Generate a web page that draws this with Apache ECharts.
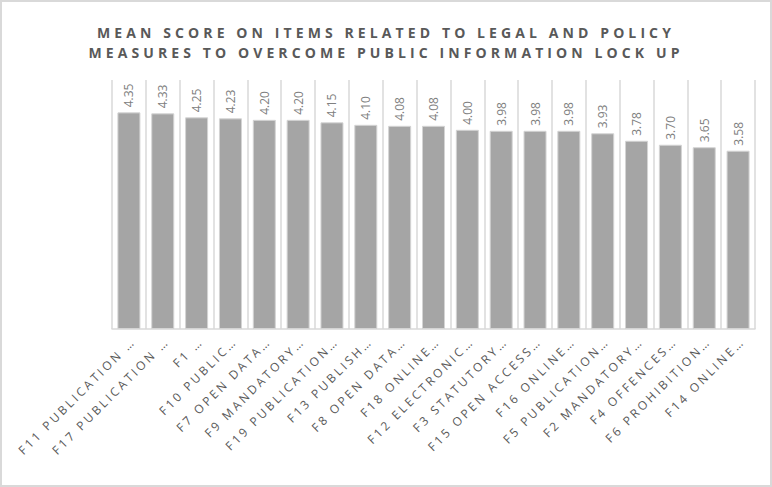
<!DOCTYPE html>
<html>
<head>
<meta charset="utf-8">
<script src="https://cdn.jsdelivr.net/npm/echarts@6/dist/echarts.min.js"></script>
<style>
  html, body { margin: 0; padding: 0; background: #fff; }
  #chart { width: 772px; height: 487px; }
</style>
</head>
<body>
<div id="chart"></div>
<script>
const titleLines = [
  'MEAN SCORE ON ITEMS RELATED TO LEGAL AND POLICY',
  'MEASURES TO OVERCOME PUBLIC INFORMATION LOCK UP'
];
const categories = [
  'F11 PUBLICATION …', 'F17 PUBLICATION …', 'F1 …', 'F10 PUBLIC…',
  'F7 OPEN DATA…', 'F9 MANDATORY…', 'F19 PUBLICATION…', 'F13 PUBLISH…',
  'F8 OPEN DATA…', 'F18 ONLINE…', 'F12 ELECTRONIC…', 'F3 STATUTORY…',
  'F15 OPEN ACCESS…', 'F16 ONLINE…', 'F5 PUBLICATION…', 'F2 MANDATORY…',
  'F4 OFFENCES…', 'F6 PROHIBITION…', 'F14 ONLINE…'
];
const meanScores = [4.35, 4.33, 4.25, 4.23, 4.20, 4.20, 4.15, 4.10, 4.08, 4.08,
  4.00, 3.98, 3.98, 3.98, 3.93, 3.78, 3.70, 3.65, 3.58];

const chart = echarts.init(document.getElementById('chart'), null, { renderer: 'svg' });
chart.setOption({
  animation: false,
  backgroundColor: '#ffffff',
  title: {
    text: titleLines.join('\n'),
    left: 'center',
    top: 17,
    textStyle: {
      fontFamily: 'Open Sans',
      fontSize: 14,
      fontWeight: 'bold',
      color: '#595959',
      lineHeight: 20
    }
  },
  graphic: [{
    type: 'rect',
    shape: { x: 1, y: 1, width: 770, height: 485 },
    style: { fill: 'none', stroke: '#d9d9d9', lineWidth: 2 },
    silent: true
  }],
  grid: { left: 112, right: 17, top: 80, bottom: 158 },
  xAxis: {
    type: 'category',
    data: categories,
    axisLine: { show: true, lineStyle: { color: '#d9d9d9', width: 1.5 } },
    axisTick: { show: false },
    splitLine: { show: true, lineStyle: { color: '#d9d9d9', width: 1.5 } },
    axisLabel: {
      interval: 0,
      rotate: 45,
      margin: 6,
      verticalAlign: 'top',
      fontFamily: 'Open Sans',
      fontSize: 12,
      color: '#595959'
    }
  },
  yAxis: {
    type: 'value',
    min: 0,
    max: 5,
    show: false,
    splitLine: { show: false }
  },
  series: [{
    type: 'bar',
    data: meanScores,
    barWidth: '68%',
    itemStyle: { color: '#a5a5a5', borderColor: '#d4d4d4', borderWidth: 1 },
    label: {
      show: true,
      position: 'top',
      rotate: 90,
      align: 'left',
      verticalAlign: 'middle',
      distance: 5,
      fontFamily: 'Open Sans',
      fontSize: 12,
      color: '#808080',
      formatter: p => p.value.toFixed(2)
    }
  }]
});

function applySpacing() {
  const texts = document.querySelectorAll('#chart svg text');
  texts.forEach(t => {
    const s = t.textContent;
    if (/^[A-Z ]{20,}$/.test(s)) {
      t.style.letterSpacing = '4.1px';
    } else if (/^F\d/.test(s)) {
      t.style.letterSpacing = '2.8px';
    }
  });
}
applySpacing();
chart.on('finished', applySpacing);
</script>
</body>
</html>
